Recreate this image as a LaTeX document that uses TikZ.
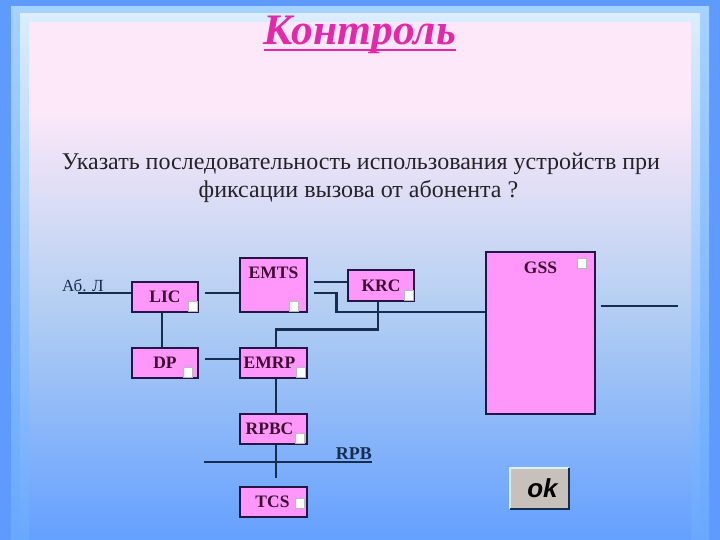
\documentclass[tikz,border=0pt]{standalone}
\usepackage{fontspec}
\setmainfont{Liberation Serif}
\newfontfamily\oksans{Liberation Sans}
\usetikzlibrary{calc}
\definecolor{outerblue}{RGB}{95,155,255}
\definecolor{bandtop}{RGB}{165,210,255}
\definecolor{bandbot}{RGB}{105,168,255}
\definecolor{innerpink}{RGB}{252,232,248}
\definecolor{innermid}{RGB}{182,208,242}
\definecolor{innerbot}{RGB}{100,160,255}
\definecolor{boxfill}{RGB}{255,150,250}
\definecolor{boxdraw}{RGB}{35,22,70}
\definecolor{boxtext}{RGB}{60,15,50}
\definecolor{wirecol}{RGB}{22,45,80}
\definecolor{titlecol}{RGB}{228,40,170}
\definecolor{qtext}{RGB}{35,35,40}
\definecolor{okgray}{RGB}{200,192,186}
\begin{document}
\begin{tikzpicture}[x=1pt,y=-1pt,
  box/.style={draw=boxdraw, line width=1.1pt, fill=boxfill, inner sep=0pt},
  lbl/.style={font=\fontsize{17.5}{18}\selectfont\bfseries, text=boxtext, inner sep=0pt},
  sq/.style={draw=gray!55, fill=white, line width=0.6pt, minimum width=9pt, minimum height=10pt, inner sep=0pt},
  wire/.style={draw=wirecol, line width=2.9pt},
  bevlight/.style={draw=white!85!cyan, line width=1.6pt},
  bevdark/.style={draw=wirecol, line width=1.6pt}]
% background
\useasboundingbox (0,0) rectangle (720,540);
\fill[outerblue] (0,0) rectangle (720,540);
\shade[top color=bandtop, bottom color=bandbot] (11,7) rectangle (709,540);
\shade[top color=white!60!bandtop, bottom color=bandbot] (20,14) rectangle (700,540);
\fill[innerpink] (29,22) rectangle (691,110);
\shade[top color=innerpink, bottom color=innermid] (29,109.5) rectangle (691,300);
\shade[top color=innermid, bottom color=innerbot] (29,299.5) rectangle (691,540);
% title
\node[anchor=base, inner sep=0pt, text=titlecol,
      font=\fontsize{43.5}{44}\selectfont\bfseries\itshape] (title) at (360,45) {Контроль};
\draw[titlecol, line width=2.2pt] ([yshift=-5pt]title.base west) -- ([yshift=-5pt]title.base east);
% question
\node[anchor=base, inner sep=0pt, text=qtext, font=\fontsize{24}{28}\selectfont] (q1) at (361,170)
  {Указать последовательность использования устройств при};
\node[anchor=base, inner sep=0pt, text=qtext, font=\fontsize{24}{28}\selectfont] (q2) at (358.5,198)
  {фиксации вызова от абонента ?};
% boxes
\node[box, minimum width=66pt, minimum height=30pt, label={[lbl]center:LIC}] (LIC) at (165,297) {};
\node[box, minimum width=67pt, minimum height=54pt, label={[lbl,anchor=north,yshift=-9pt]north:EMTS}] (EMTS) at (273.5,285) {};
\node[box, minimum width=66pt, minimum height=30pt, label={[lbl]center:DP}] (DP) at (165,363) {};
\node[box, minimum width=67pt, minimum height=30pt, label={[lbl,xshift=-4pt]center:EMRP}] (EMRP) at (273.5,363) {};
\node[box, minimum width=66pt, minimum height=31pt, label={[lbl]center:KRC}] (KRC) at (381,285.5) {};
\node[box, minimum width=109pt, minimum height=162pt, label={[lbl,anchor=north,yshift=-10pt]north:GSS}] (GSS) at (540.5,333) {};
\node[box, minimum width=67pt, minimum height=30pt, label={[lbl,xshift=-4pt]center:RPBC}] (RPBC) at (273.5,429) {};
\node[box, minimum width=67pt, minimum height=30pt, label={[lbl,xshift=-1pt]center:TCS}] (TCS) at (273.5,502) {};
% small squares
\node[sq, anchor=south east] (LICsq) at ([xshift=-1pt,yshift=1pt]LIC.south east) {};
\node[sq, anchor=south east] (EMTSsq) at ([xshift=-9pt,yshift=1pt]EMTS.south east) {};
\node[sq, anchor=south east] (DPsq) at ([xshift=-6pt,yshift=1pt]DP.south east) {};
\node[sq, anchor=south east] (EMRPsq) at ([xshift=-2pt,yshift=1pt]EMRP.south east) {};
\node[sq, anchor=south east] (KRCsq) at ([xshift=-1pt,yshift=1pt]KRC.south east) {};
\node[sq, anchor=north east] (GSSsq) at ([xshift=-9pt,yshift=-7pt]GSS.north east) {};
\node[sq, anchor=south east] (RPBCsq) at ([xshift=-3pt,yshift=1pt]RPBC.south east) {};
\node[sq, anchor=south east] (TCSsq) at ([xshift=-3pt,yshift=9pt]TCS.south east) {};
% subscriber line
\node[anchor=base west, inner sep=0pt, text=wirecol, font=\fontsize{17}{17}\selectfont] (ab) at (62,291) {Аб. Л};
\coordinate (abL) at (78,293);
\draw[wire] (abL) -- (abL -| LIC.west);
\draw[wire] ([xshift=6pt]abL -| LIC.east) -- (abL -| EMTS.west);
% EMTS to KRC and GSS
\coordinate (e1) at ([xshift=6pt,yshift=3pt]EMTS.east);
\coordinate (e2) at ([xshift=6pt,yshift=-8pt]EMTS.east);
\coordinate (g1) at ([yshift=21pt]GSS.west);
\draw[wire] (e1) -- (e1 -| KRC.west);
\draw[wire] (e2) -- ++(23,0) |- (g1);
% EMRP up to KRC
\draw[wire] ([xshift=2.5pt]EMRP.north) -- ++(0,-18) -| ([xshift=-3pt]KRC.south);
% LIC - DP
\draw[wire] ([xshift=-3pt]LIC.south) -- ([xshift=-3pt]DP.north);
% DP - EMRP
\draw[wire] ([xshift=6pt,yshift=4pt]DP.east) -- ([yshift=4pt]EMRP.west);
% EMRP - RPBC - TCS
\draw[wire] ([xshift=2.5pt]EMRP.south) -- ([xshift=2.5pt]RPBC.north);
\draw[wire] ([xshift=2.5pt]RPBC.south) -- ([xshift=2.5pt,yshift=8pt]TCS.north);
% RPB bus
\coordinate (busL) at (204,462);
\coordinate (busR) at (372,462);
\draw[wire] (busL) -- (busR);
\node[anchor=base east, inner sep=0pt, text=wirecol, font=\fontsize{18}{18}\selectfont\bfseries] (rpb) at (372,459) {RPB};
% GSS output
\coordinate (gout) at (678,306);
\draw[wire] ([xshift=5pt]GSS.east |- gout) -- (gout);
% ok button
\node[fill=okgray, minimum width=59pt, minimum height=41pt, inner sep=0pt,
      font=\oksans\fontsize{26}{26}\selectfont\bfseries\itshape, text=black] (ok) at (539.5,488.5) {\hspace{6pt}ok};
\draw[bevlight] (ok.south west) -- (ok.north west) -- (ok.north east);
\draw[bevdark] (ok.north east) -- (ok.south east) -- (ok.south west);
\end{tikzpicture}
\end{document}
